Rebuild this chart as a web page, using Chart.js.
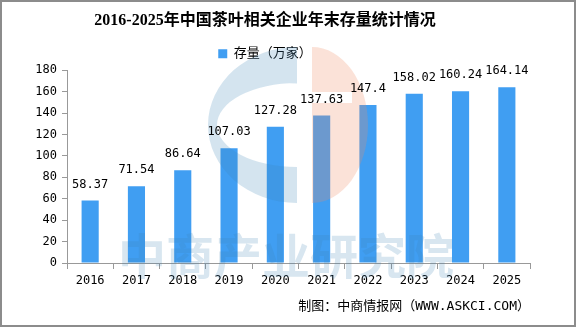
<!DOCTYPE html>
<html><head><meta charset="utf-8">
<script src="https://cdn.jsdelivr.net/npm/chart.js@4"></script>
<style>html,body{margin:0;padding:0;background:#fff}#wrap{position:relative;width:576px;height:327px}</style>
</head><body><div id="wrap"><canvas id="c" width="576" height="327"></canvas></div>
<script>
const years = ['2016','2017','2018','2019','2020','2021','2022','2023','2024','2025'];
const stock = [58.37, 71.54, 86.64, 107.03, 127.28, 137.63, 147.4, 158.02, 160.24, 164.14];
const yTicks = [0, 20, 40, 60, 80, 100, 120, 140, 160, 180];
const titleText = '2016-2025年中国茶叶相关企业年末存量统计情况';
const seriesName = '存量（万家）';
const sourceText = '制图：中商情报网（WWW.ASKCI.COM）';
const watermarkText = '中商产业研究院';

const MONO = '"DejaVu Sans Mono", "Noto Sans CJK SC", monospace';

const deco = {
  id: 'deco',
  beforeDraw(chart) {
    const ctx = chart.ctx;
    ctx.save();
    ctx.fillStyle = '#fff';
    ctx.fillRect(0, 0, chart.width, chart.height);
    ctx.restore();
  },
  afterDatasetsDraw(chart) {
    const ctx = chart.ctx;
    ctx.save();
    // watermark logo
    ctx.fillStyle = 'rgba(60,130,180,0.22)';
    ctx.beginPath();
    ctx.moveTo(297, 203);
    ctx.ellipse(297, 125, 89, 78, 0, Math.PI / 2, Math.PI * 1.5);
    ctx.closePath();
    ctx.moveTo(297, 167);
    ctx.ellipse(297, 125, 80, 42, 0, Math.PI / 2, Math.PI * 1.5);
    ctx.closePath();
    ctx.fill('evenodd');
    ctx.fillStyle = 'rgba(240,140,100,0.25)';
    ctx.beginPath();
    ctx.moveTo(312, 47);
    ctx.ellipse(312, 125, 56, 78, 0, -Math.PI / 2, Math.PI / 2);
    ctx.closePath();
    ctx.rect(312, 92, 40, 11);
    ctx.fill('evenodd');
    // watermark text
    ctx.fillStyle = 'rgba(60,130,180,0.2)';
    ctx.font = 'bold 48px "Noto Sans CJK SC"';
    ctx.textAlign = 'left';
    ctx.textBaseline = 'middle';
    ctx.fillText(watermarkText, 118, 256);
    // value labels
    const meta = chart.getDatasetMeta(0);
    ctx.fillStyle = '#000';
    ctx.font = '12px ' + MONO;
    ctx.textAlign = 'center';
    ctx.textBaseline = 'middle';
    meta.data.forEach((bar, i) => {
      ctx.fillText(String(stock[i]), bar.x, bar.y - 16);
    });
    ctx.restore();
  },
  afterDraw(chart) {
    const ctx = chart.ctx;
    ctx.save();
    ctx.strokeStyle = '#8c8c8c';
    ctx.lineWidth = 2;
    ctx.strokeRect(1, 1, chart.width - 2, chart.height - 2);
    ctx.restore();
  }
};

new Chart(document.getElementById('c'), {
  type: 'bar',
  data: {
    labels: years,
    datasets: [{
      label: seriesName,
      data: stock,
      backgroundColor: '#409EF2',
      borderWidth: 0,
      categoryPercentage: 1,
      barPercentage: 0.37
    }]
  },
  options: {
    responsive: false,
    animation: false,
    devicePixelRatio: 1,
    layout: { padding: { top: 6, right: 46, bottom: 8, left: 0 } },
    plugins: {
      title: {
        display: true,
        text: titleText,
        color: '#000',
        font: { family: '"Liberation Serif", "Noto Sans CJK SC", serif', size: 16, weight: 'bold' },
        padding: { top: 5, bottom: 9 }
      },
      legend: {
        display: true,
        labels: {
          color: '#000',
          boxWidth: 9,
          boxHeight: 9,
          padding: 8,
          font: { family: MONO, size: 13 }
        }
      },
      subtitle: {
        display: true,
        position: 'bottom',
        align: 'end',
        text: sourceText,
        color: '#000',
        font: { family: MONO, size: 13 },
        padding: { top: 5, bottom: 5 }
      },
      tooltip: { enabled: false }
    },
    scales: {
      x: {
        grid: { display: true, drawOnChartArea: false, drawTicks: true, tickLength: 6, color: '#999', offset: true },
        border: { display: true, color: '#999' },
        ticks: { color: '#000', padding: 5, font: { family: MONO, size: 12 } }
      },
      y: {
        min: 0,
        max: 180,
        afterBuildTicks: (s) => { s.ticks = yTicks.map(v => ({ value: v })); },
        afterFit: (s) => { s.width = 67; },
        grid: { display: true, drawOnChartArea: false, drawTicks: true, tickLength: 5, color: '#999' },
        border: { display: true, color: '#999' },
        ticks: { color: '#000', padding: 5, font: { family: MONO, size: 12 } }
      }
    }
  },
  plugins: [deco]
});
</script>
</body></html>
